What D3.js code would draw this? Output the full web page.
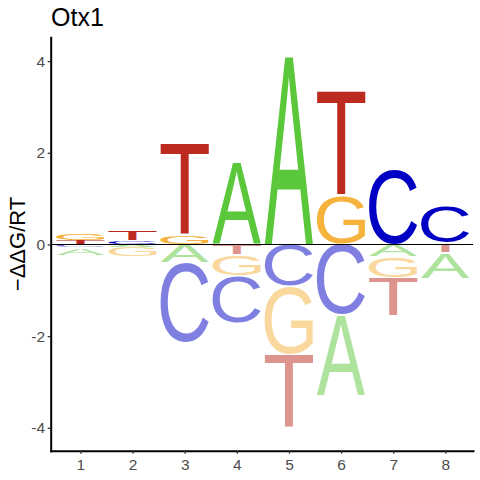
<!DOCTYPE html>
<html>
<head>
<meta charset="utf-8">
<script src="https://cdn.jsdelivr.net/npm/d3@7"></script>
<style>
  body { margin: 0; background: #fff; }
  svg { display: block; font-family: 'Liberation Sans', Arial, sans-serif; }
</style>
</head>
<body>
<div class="js-chart"></div>
<script>
// Energy logo values (-ddG/RT per base and position).
const positions = [1, 2, 3, 4, 5, 6, 7, 8];
const bases = ['A', 'C', 'G', 'T'];
const valuesA = [-0.17, -0.06, -0.40, 1.79, 4.10, -1.76, -0.27, -0.56];
const valuesC = [-0.07, 0.09, -1.75, -1.03, -0.91, -1.53, 1.64, 0.81];
const valuesG = [0.17, -0.21, 0.18, -0.46, -1.50, 1.06, -0.45, 0.03];
const valuesT = [0.09, 0.22, 2.01, -0.22, -1.61, 2.29, -0.84, -0.18];
const yTicks = [-4, -2, 0, 2, 4];
const title = 'Otx1';
const yLabel = '\u2212\u0394\u0394G/RT';

const WIDTH = 480;
const HEIGHT = 480;
const FONT = "'Liberation Sans', Arial, sans-serif";

const colours = { A: '#5bc83b', C: '#0000c4', G: '#f5b23c', T: '#bc2a20' };

const svg = d3.select('.js-chart').append('svg')
  .attr('width', WIDTH)
  .attr('height', HEIGHT);

// Scales, fitted to the panel of the original.
const xScale = d3.scaleLinear().domain([0.43, 8.53]).range([50.7, 473]);
const yScale = d3.scaleLinear().domain([-4.5, 4.52]).range([450.7, 37.3]);

// Measure glyph ink bounds on a canvas so letters can be stretched to a box.
const ctx = document.createElement('canvas').getContext('2d');
ctx.font = '100px ' + FONT;
const glyphBox = {};
bases.forEach(function(b) {
  const m = ctx.measureText(b);
  glyphBox[b] = {
    left: m.actualBoundingBoxLeft,
    right: m.actualBoundingBoxRight,
    ascent: m.actualBoundingBoxAscent,
    descent: m.actualBoundingBoxDescent
  };
});

// Build stacks: positives grow up from zero, negatives down, small ones nearest zero.
const table = { A: valuesA, C: valuesC, G: valuesG, T: valuesT };
const letters = [];
positions.forEach(function(pos, i) {
  const col = bases.map(function(b) { return { base: b, value: table[b][i] }; });
  let up = 0, down = 0;
  col.filter(function(d) { return d.value > 0; })
    .sort(function(a, b) { return a.value - b.value; })
    .forEach(function(d) {
      letters.push({ pos: pos, base: d.base, y0: up, y1: up + d.value, neg: false });
      up += d.value;
    });
  col.filter(function(d) { return d.value < 0; })
    .sort(function(a, b) { return b.value - a.value; })
    .forEach(function(d) {
      letters.push({ pos: pos, base: d.base, y0: down + d.value, y1: down, neg: true });
      down += d.value;
    });
});

const letterWidth = 0.93;
const plot = svg.append('g');

plot.selectAll('text.letter')
  .data(letters)
  .enter().append('text')
  .attr('class', 'letter')
  .attr('font-family', FONT)
  .attr('font-size', 100)
  .attr('fill', function(d) { return colours[d.base]; })
  .attr('fill-opacity', function(d) { return d.neg ? 0.5 : 1; })
  .attr('transform', function(d) {
    const g = glyphBox[d.base];
    const x0 = xScale(d.pos - letterWidth / 2);
    const x1 = xScale(d.pos + letterWidth / 2);
    const top = yScale(d.y1) + 0.5;
    const bottom = yScale(d.y0) - 0.5;
    const h = Math.max(bottom - top, 0.3);
    const sx = (x1 - x0) / (g.left + g.right);
    const sy = h / (g.ascent + g.descent);
    return 'translate(' + (x0 + g.left * sx) + ',' + (top + g.ascent * sy) + ') scale(' + sx + ',' + sy + ')';
  })
  .text(function(d) { return d.base; });

// Zero line over the letters.
plot.append('line')
  .attr('x1', xScale.range()[0]).attr('x2', xScale.range()[1])
  .attr('y1', yScale(0)).attr('y2', yScale(0))
  .attr('stroke', '#000')
  .attr('stroke-width', 1.1);

// Axes.
const xAxis = d3.axisBottom(xScale)
  .tickValues(positions)
  .tickFormat(d3.format('d'))
  .tickSize(3)
  .tickSizeOuter(0)
  .tickPadding(5.6);

const yAxis = d3.axisLeft(yScale)
  .tickValues(yTicks)
  .tickFormat(function(d) { return d < 0 ? '-' + Math.abs(d) : String(d); })
  .tickSize(3)
  .tickSizeOuter(0)
  .tickPadding(2.7);

const gx = svg.append('g')
  .attr('transform', 'translate(0,' + yScale.range()[0] + ')')
  .call(xAxis);

const gy = svg.append('g')
  .attr('transform', 'translate(' + xScale.range()[0] + ',0)')
  .call(yAxis);

[gx, gy].forEach(function(g) {
  g.select('.domain').attr('stroke', '#000').attr('stroke-width', 2).attr('stroke-linecap', 'square');
  g.selectAll('.tick line').attr('stroke', '#333').attr('stroke-width', 1.3);
  g.selectAll('.tick text')
    .attr('fill', '#4d4d4d')
    .attr('font-family', FONT)
    .attr('font-size', 15.5);
});

// Title and y label.
svg.append('text')
  .attr('x', 51)
  .attr('y', 26)
  .attr('font-family', FONT)
  .attr('font-size', 25)
  .attr('fill', '#000')
  .text(title);

svg.append('text')
  .attr('transform', 'translate(25,244) rotate(-90)')
  .attr('text-anchor', 'middle')
  .attr('font-family', FONT)
  .attr('font-size', 22)
  .attr('fill', '#000')
  .text(yLabel);
</script>
</body>
</html>
